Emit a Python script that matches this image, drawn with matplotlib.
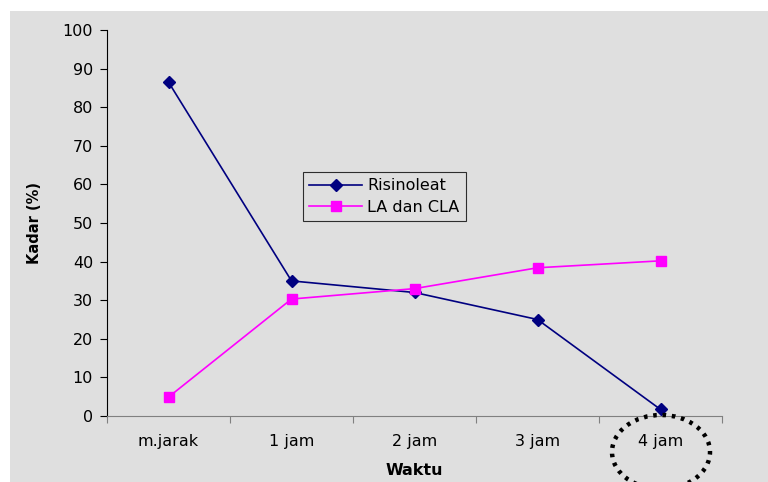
import matplotlib.pyplot as plt
from matplotlib.patches import Rectangle, Ellipse

plt.rcParams['font.family'] = ['DejaVu Sans']

kategori = ['m.jarak', '1 jam', '2 jam', '3 jam', '4 jam']
risinoleat = [86.5, 35, 32, 25, 1.7]
la_cla = [4.9, 30.3, 33, 38.4, 40.2]
yticks = [0, 10, 20, 30, 40, 50, 60, 70, 80, 90, 100]

bg = '#dfdfdf'
W, H = 768, 482
fig = plt.figure(figsize=(W / 100, H / 100), dpi=100)
fig.patch.set_facecolor('white')
fig.patches.append(Rectangle((10 / W, 0), 1, 1 - 11 / H, transform=fig.transFigure,
                             facecolor=bg, edgecolor='none', zorder=-10))

ax = fig.add_axes([107 / W, 1 - 416 / H, (722 - 107) / W, (416 - 30) / H])
ax.set_facecolor(bg)

x = [i + 0.5 for i in range(len(kategori))]
ax.plot(x, risinoleat, color='#000080', lw=1.2, marker='D', ms=6.5, label='Risinoleat', clip_on=False, zorder=3)
ax.plot(x, la_cla, color='#ff00ff', lw=1.2, marker='s', ms=6.5, label='LA dan CLA', clip_on=False, zorder=3)

ax.set_xlim(0, len(kategori))
ax.set_ylim(0, 100)
ax.set_yticks(yticks)
ax.set_xticks(range(len(kategori) + 1))
ax.set_xticklabels([])
ax.set_xticks(x, minor=True)
ax.set_xticklabels(kategori, minor=True)
ax.tick_params(axis='x', which='minor', length=0, pad=13, labelsize=11.5)
ax.tick_params(axis='x', which='major', length=5, color='#808080', direction='out')
ax.tick_params(axis='y', length=5, direction='out', labelsize=11.5, pad=5)

for s in ['top', 'right']:
    ax.spines[s].set_visible(False)
ax.spines['bottom'].set_color('#808080')
ax.spines['left'].set_color('black')

ax.set_xlabel('Waktu', fontsize=11.5, fontweight='bold', labelpad=10)
ax.set_ylabel('Kadar (%)', fontsize=10.5, fontweight='bold', labelpad=15)

leg = ax.legend(loc='upper left', bbox_to_anchor=((303 - 107) / 615, 1 - (172 - 30) / 386),
                frameon=True, fancybox=False, fontsize=11.5, handlelength=3.3,
                handletextpad=0.3, borderpad=0.4, labelspacing=0.4, borderaxespad=0)
leg.get_frame().set_facecolor(bg)
leg.get_frame().set_edgecolor('black')
leg.get_frame().set_linewidth(0.8)

# lingkaran titik-titik di sekitar 4 jam
fig.patches.append(Ellipse((661 / W, 1 - 452 / H), 98 / W, 74 / H, transform=fig.transFigure,
                           fill=False, edgecolor='black', lw=3.2, linestyle=(0, (0.8, 1.3)), zorder=5))

fig.savefig('out.png', dpi=100)
